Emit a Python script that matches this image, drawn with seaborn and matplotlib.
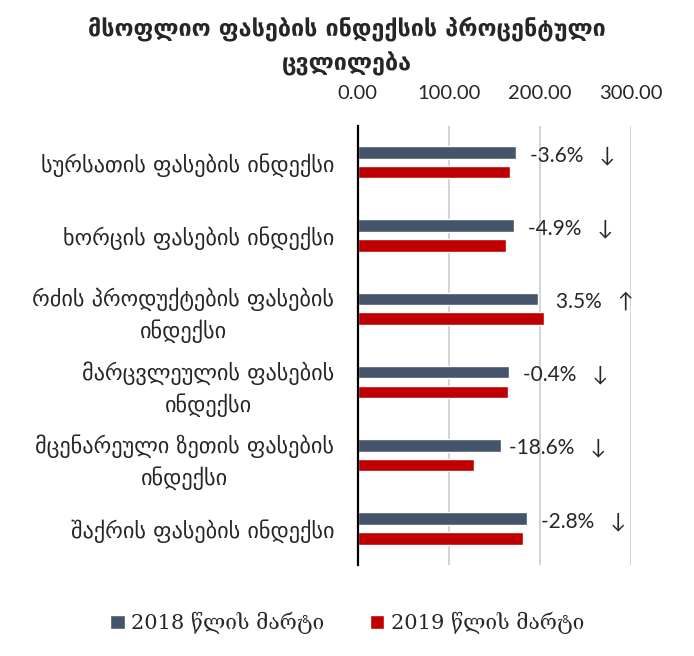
import numpy as np
import pandas as pd
import seaborn as sns
import matplotlib.pyplot as plt
from matplotlib.patches import Patch

############# Data ################
categories = ['სურსათის ფასების ინდექსი',
              'ხორცის ფასების ინდექსი',
              'რძის პროდუქტების ფასების\nინდექსი',
              'მარცვლეულის ფასების\nინდექსი',
              'მცენარეული ზეთის ფასების\nინდექსი',
              'შაქრის ფასების ინდექსი']
values_2018 = [173.8, 171.6, 197.9, 166.1, 157.4, 186.4]
values_2019 = [167.6, 163.2, 204.8, 165.4, 128.1, 181.0]
changes = ['-3.6%', '-4.9%', '3.5%', '-0.4%', '-18.6%', '-2.8%']
arrows = ['↓', '↓', '↑', '↓', '↓', '↓']
series = ['2018 წლის მარტი', '2019 წლის მარტი']
colors = ['#44546A', '#C00000']
title = 'მსოფლიო ფასების ინდექსის პროცენტული\nცვლილება'

df = pd.DataFrame({
    'category': categories * 2,
    'value': values_2018 + values_2019,
    'series': [series[0]] * len(categories) + [series[1]] * len(categories),
})

############# Plot ################
sns.set_style('white')
plt.rcParams['font.family'] = ['DejaVu Sans']

fig, ax = plt.subplots(figsize=(6.94, 6.56), dpi=100)
fig.subplots_adjust(left=0.5155, right=0.909, top=0.8084, bottom=0.1387)

sns.barplot(data=df, y='category', x='value', hue='series', palette=colors,
            saturation=1, orient='h', width=0.54, gap=0.37, ax=ax, legend=False)

ax.set_xlim(0, 300)
ax.set_xticks([0, 100, 200, 300])
ax.set_xticklabels([f'{t:.2f}' for t in [0, 100, 200, 300]],
                   family=['Lato', 'DejaVu Sans'], fontsize=14.5)
ax.xaxis.tick_top()
ax.tick_params(axis='x', length=0, pad=17)
ax.tick_params(axis='y', length=0, pad=17)
ax.set_yticks(range(len(categories)))
ax.set_yticklabels(categories, fontsize=16, family=['DejaVu Sans'],
                   linespacing=1.45)
for lbl in ax.get_yticklabels():
    lbl.set_horizontalalignment('right')
    lbl.set_multialignment('center')
ax.set_xlabel('')
ax.set_ylabel('')
ax.grid(axis='x', color='#d0d0d0', linewidth=1.3)
ax.set_axisbelow(True)
for s in ['top', 'right', 'bottom']:
    ax.spines[s].set_visible(False)
ax.spines['left'].set_color('black')
ax.spines['left'].set_linewidth(1.6)
ax.spines['left'].set_zorder(5)

# percent change labels next to the 2018 bars
for i, (v, c, a) in enumerate(zip(values_2018, changes, arrows)):
    ax.text(v + 62, i - 0.1, f'{c}   {a}', ha='center', va='center',
            fontsize=15, family=['Lato', 'DejaVu Sans'], clip_on=False)

fig.suptitle(title, x=0.5, y=0.976, fontsize=16.8, fontweight='bold',
             family=['DejaVu Sans'], linespacing=1.6, va='top')

handles = [Patch(facecolor=c, label=s) for c, s in zip(colors, series)]
fig.legend(handles=handles, loc='center', bbox_to_anchor=(0.5, 0.05), ncol=2,
           frameon=False, handlelength=0.7, handleheight=0.7, handletextpad=0.3,
           columnspacing=2.2, prop={'family': ['DejaVu Serif'], 'size': 15})

plt.savefig('out.png', dpi=100)
